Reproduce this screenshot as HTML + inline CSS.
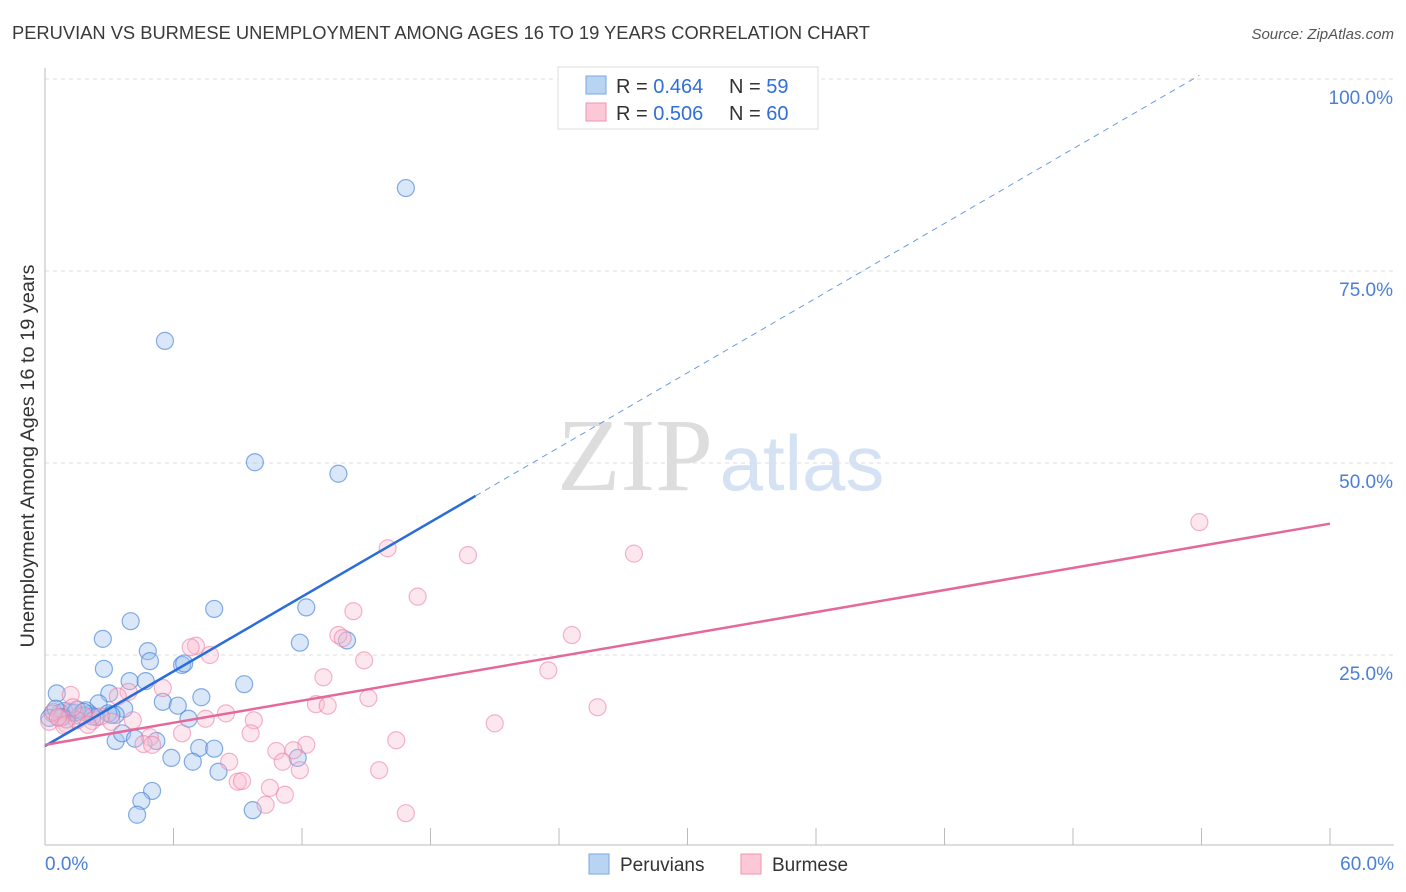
<!DOCTYPE html>
<html><head><meta charset="utf-8"><style>
body{margin:0;background:#fff;font-family:"Liberation Sans",sans-serif}
svg{display:block}
</style></head><body>
<svg id="chart" width="1406" height="892" xmlns="http://www.w3.org/2000/svg">
<text x="12" y="39" font-size="18" fill="#3a3a3a" textLength="858" lengthAdjust="spacingAndGlyphs">PERUVIAN VS BURMESE UNEMPLOYMENT AMONG AGES 16 TO 19 YEARS CORRELATION CHART</text>
<text x="1394" y="39" font-size="15" fill="#555" font-style="italic" text-anchor="end">Source: ZipAtlas.com</text>
<g>
<text x="635" y="490" font-size="104" fill="#ddd" font-family="Liberation Serif,serif" text-anchor="middle">ZIP</text>
<text x="802" y="490" font-size="78" fill="#d4e2f3" text-anchor="middle">atlas</text>
</g>
<g id="grid"></g>
<g id="axes"></g>
<g id="points"></g>
<g id="trends"></g>
<g>
<rect x="558" y="67" width="260" height="62" fill="#fff" stroke="#ddd"/>
<rect x="586" y="76" width="20" height="18" fill="#b9d3f3" stroke="#7aa7e0"/>
<rect x="586" y="103" width="20" height="18" fill="#fcc7d6" stroke="#f095b0"/>
<text x="616" y="93" font-size="20" fill="#333">R = <tspan fill="#2f6fd6">0.464</tspan><tspan x="729">N = </tspan><tspan fill="#2f6fd6">59</tspan></text>
<text x="616" y="120" font-size="20" fill="#333">R = <tspan fill="#2f6fd6">0.506</tspan><tspan x="729">N = </tspan><tspan fill="#2f6fd6">60</tspan></text>
</g>
<g>
<rect x="589" y="854" width="20" height="20" fill="#b9d3f3" stroke="#7aa7e0"/>
<text x="620" y="871" font-size="19" fill="#333">Peruvians</text>
<rect x="741" y="854" width="20" height="20" fill="#fcc7d6" stroke="#f095b0"/>
<text x="772" y="871" font-size="19" fill="#333">Burmese</text>
</g>
<text x="34" y="456" font-size="19" fill="#333" text-anchor="middle" transform="rotate(-90 34 456)" textLength="383" lengthAdjust="spacingAndGlyphs">Unemployment Among Ages 16 to 19 years</text>
</svg>
<script>
const yTicks=[25,50,75,100];
const yTickLabels=["25.0%","50.0%","75.0%","100.0%"];
const xTickCount=10;
const peruX=[16.85,5.6,9.8,13.7,12.2,7.9,4.0,2.7,11.9,14.1,4.8,4.9,6.4,6.5,2.75,9.3,3.95,4.7,7.3,0.55,3.0,5.5,6.2,3.7,2.5,6.7,3.3,2.1,1.2,0.7,0.35,1.6,0.9,1.4,3.3,3.6,4.2,5.2,7.2,7.9,5.9,6.9,11.8,8.1,5.0,4.5,4.3,9.7,2.95,1.9,2.4,0.2,0.5,1.0,1.5,2.2,0.8,1.8,3.1];
const peruY=[85.8,65.9,50.1,48.6,31.2,31.0,29.4,27.1,26.6,26.9,25.5,24.2,23.7,23.9,23.2,21.2,21.6,21.6,19.5,20.0,20.0,18.9,18.4,18.0,18.7,16.7,17.2,17.3,17.5,17.5,17.4,17.1,17.7,17.5,13.8,14.8,14.1,13.8,12.9,12.8,11.6,11.1,11.6,9.8,7.3,6.0,4.2,4.8,17.4,17.8,16.9,16.8,18.0,16.6,17.9,17.0,16.9,17.6,17.2];
const burmX=[53.9,27.5,19.75,16.0,17.4,14.4,24.6,13.7,13.9,7.05,6.8,7.7,14.9,23.5,13.0,5.5,3.9,15.1,1.2,12.65,13.2,25.8,8.45,9.75,7.5,21.0,3.1,1.8,0.7,9.6,6.4,4.9,4.6,5.0,12.2,11.6,10.8,16.4,11.1,8.6,11.9,15.6,10.5,9.0,9.2,11.2,10.3,16.85,2.2,0.2,1.0,0.4,2.6,1.5,3.4,0.9,2.0,4.1,1.3,0.6];
const burmY=[42.3,38.2,38.0,38.9,32.6,30.7,27.6,27.6,27.2,26.2,26.0,25.0,24.3,23.0,22.1,20.7,20.2,19.4,19.8,18.6,18.4,18.2,17.4,16.5,16.7,16.1,16.3,17.1,16.8,14.8,14.8,14.3,13.4,13.3,13.3,12.6,12.5,13.9,11.1,11.1,10.0,10.0,7.7,8.5,8.6,6.8,5.5,4.4,16.4,16.3,16.0,17.6,17.0,16.5,19.6,15.8,15.9,16.5,18.2,16.9];
const peruTrend=[13.15,1.62,20.1,53.9];
const burmTrend=[13.3,0.48,60];
const X0=45,X1=1330,Y0=847,Y100=79;
const sx=v=>X0+(v/60)*(X1-X0);
const sy=v=>Y0-(v/100)*(Y0-Y100);
const NS="http://www.w3.org/2000/svg";
function mk(tag,attrs,parent){const e=document.createElementNS(NS,tag);for(const k in attrs)e.setAttribute(k,attrs[k]);parent.appendChild(e);return e;}
const grid=document.getElementById('grid'),axes=document.getElementById('axes');
yTicks.forEach((t,i)=>{
 const l=mk('line',{x1:45,x2:1394,y1:sy(t),y2:sy(t),stroke:'#ddd','stroke-dasharray':'4,4'},grid);
 
 
 const tx=mk('text',{x:1393,y:sy(t)+25,'font-size':19,fill:'#4a7fd6','text-anchor':'end'},axes);
 tx.textContent=yTickLabels[i];
 
 
});
const ya=mk('line',{x1:45,x2:45,y1:68,y2:845,stroke:'#bbb'},axes);


const xa=mk('line',{x1:45,x2:1394,y1:845,y2:845,stroke:'#bbb'},axes);


for(let k=0;k<=xTickCount;k++){const x=sx(k*60/xTickCount);
 const t=mk('line',{x1:x,x2:x,y1:828,y2:845,stroke:'#bbb'},axes);
 
 }
const xl0=mk('text',{x:45,y:870,'font-size':19,fill:'#4a7fd6'},axes);xl0.textContent='0.0%';


const xl1=mk('text',{x:1394,y:870,'font-size':19,fill:'#4a7fd6','text-anchor':'end'},axes);xl1.textContent='60.0%';


const pts=document.getElementById('points');
peruX.forEach((v,i)=>{const c=mk('circle',{cx:sx(v),cy:sy(peruY[i]),r:8.5,fill:'rgba(160,196,240,0.4)',stroke:'rgba(70,130,215,0.65)','stroke-width':1.2},pts);
 
 });
burmX.forEach((v,i)=>{const c=mk('circle',{cx:sx(v),cy:sy(burmY[i]),r:8.5,fill:'rgba(250,185,205,0.35)',stroke:'rgba(235,120,160,0.55)','stroke-width':1.2},pts);
 
 });
const tr=document.getElementById('trends');
const pf=x=>peruTrend[0]+peruTrend[1]*x;
const b1=mk('line',{x1:sx(0),y1:sy(pf(0)),x2:sx(peruTrend[2]),y2:sy(pf(peruTrend[2])),stroke:'#2a6dd9','stroke-width':2.5},tr);


const b2=mk('line',{x1:sx(peruTrend[2]),y1:sy(pf(peruTrend[2])),x2:sx(peruTrend[3]),y2:sy(pf(peruTrend[3])),stroke:'#6a9be0','stroke-width':1,'stroke-dasharray':'6,5'},tr);


const bf=x=>burmTrend[0]+burmTrend[1]*x;
const p1=mk('line',{x1:sx(0),y1:sy(bf(0)),x2:sx(burmTrend[2]),y2:sy(bf(burmTrend[2])),stroke:'#e5689a','stroke-width':2.5},tr);


</script>
</body></html>
